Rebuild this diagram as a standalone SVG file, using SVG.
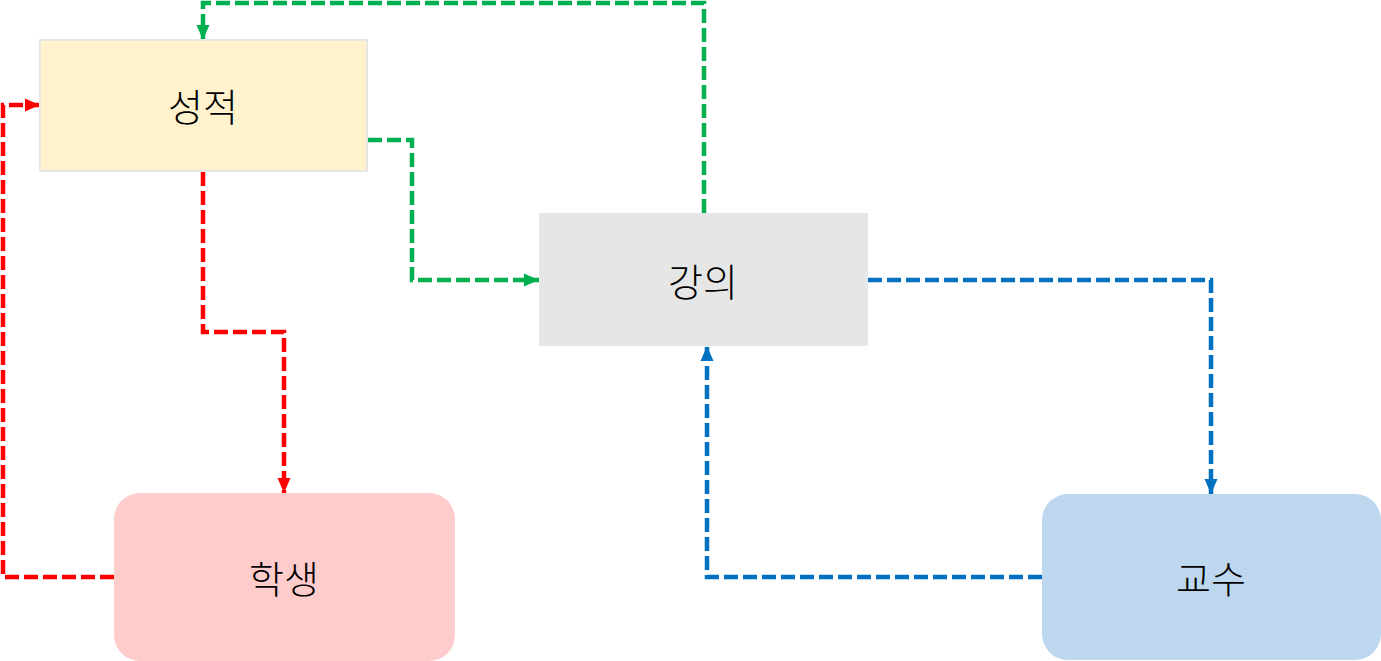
<svg xmlns="http://www.w3.org/2000/svg" width="1381" height="661" viewBox="0 0 1381 661">
<style>
.lbl{font-family:"Noto Sans CJK KR","Noto Sans",sans-serif;font-size:38px;font-weight:300;fill:#000;text-anchor:middle;dominant-baseline:central}
.c{fill:none;stroke-width:4.5;stroke-dasharray:14 5}
.r{stroke:#FF0000}
.g{stroke:#00B050}
.b{stroke:#0070C0}
</style>
<defs>
<marker id="ar" markerUnits="userSpaceOnUse" markerWidth="16" markerHeight="16" viewBox="0 0 16 16" refX="15" refY="8" orient="auto"><path d="M0,1.5 L15,8 L0,14.5 Z" fill="#FF0000"/></marker>
<marker id="ag" markerUnits="userSpaceOnUse" markerWidth="16" markerHeight="16" viewBox="0 0 16 16" refX="15" refY="8" orient="auto"><path d="M0,1.5 L15,8 L0,14.5 Z" fill="#00B050"/></marker>
<marker id="ab" markerUnits="userSpaceOnUse" markerWidth="16" markerHeight="16" viewBox="0 0 16 16" refX="15" refY="8" orient="auto"><path d="M0,1.5 L15,8 L0,14.5 Z" fill="#0070C0"/></marker>
</defs>
<rect width="1381" height="661" fill="#FFFFFF"/>
<g id="connectors">
<path class="c r" d="M203,172 V332 H284 V493" marker-end="url(#ar)"/>
<path class="c r" d="M114,577 H3 V105 H40" marker-end="url(#ar)"/>
<path class="c g" d="M704,213 V3 H203 V40" marker-end="url(#ag)"/>
<path class="c g" d="M368,140 H412 V280 H539" marker-end="url(#ag)"/>
<path class="c b" d="M868,280 H1211 V494" marker-end="url(#ab)"/>
<path class="c b" d="M1042,577 H707 V346" marker-end="url(#ab)"/>
</g>
<g id="node-grade">
<rect x="40" y="40" width="327" height="131" fill="#FFF2CC" stroke="#E6E6E6" stroke-width="2"/>
<text class="lbl" x="203" y="104">성적</text>
</g>
<g id="node-lecture">
<rect x="539" y="213" width="329" height="133" fill="#E6E6E6"/>
<text class="lbl" x="703" y="279">강의</text>
</g>
<g id="node-student">
<rect x="114" y="493" width="341" height="168" rx="26" fill="#FFCCCC"/>
<text class="lbl" x="284" y="576">학생</text>
</g>
<g id="node-professor">
<rect x="1042" y="494" width="339" height="166" rx="26" fill="#BDD7EE"/>
<text class="lbl" x="1211" y="576">교수</text>
</g>
</svg>
